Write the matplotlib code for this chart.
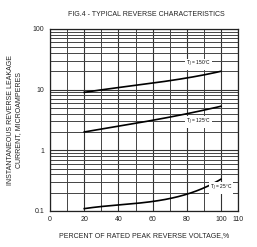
import matplotlib
matplotlib.use("Agg")
import matplotlib.pyplot as plt
import numpy as np
from matplotlib.ticker import FixedLocator, NullFormatter, FixedFormatter

x_pct = [20, 40, 60, 80, 90, 100]
tj150 = [9.0, 10.8, 12.8, 15.5, 17.5, 20.0]
tj125 = [2.0, 2.5, 3.1, 4.0, 4.6, 5.3]
tj25 = [0.11, 0.122, 0.148, 0.19, 0.23, 0.34]
x_ticks = [0, 20, 40, 60, 80, 100, 110]
y_ticks = [0.1, 1, 10, 100]
y_labels = ["0.1", "1", "10", "100"]

plt.rcParams['font.family'] = ['Liberation Sans', 'DejaVu Sans']
fig = plt.figure(figsize=(2.57, 2.47), dpi=100)
ax = fig.add_axes([0.195, 0.146, 0.731, 0.737])
ax.set_yscale('log')
ax.set_xlim(0, 110)
ax.set_ylim(0.1, 100)

for ys in [tj150, tj125, tj25]:
    coef = np.polyfit(x_pct, np.log(ys), 3)
    xx = np.linspace(20, 100, 200)
    ax.plot(xx, np.exp(np.polyval(coef, xx)), color='black', lw=1.2, zorder=3)

ax.xaxis.set_major_locator(FixedLocator(x_ticks))
ax.xaxis.set_minor_locator(FixedLocator(list(range(10, 110, 10))))
ax.yaxis.set_major_locator(FixedLocator(y_ticks))
ax.yaxis.set_major_formatter(FixedFormatter(y_labels))
minors = [m * d for d in [0.1, 1, 10] for m in range(2, 10)]
ax.yaxis.set_minor_locator(FixedLocator(minors))
ax.yaxis.set_minor_formatter(NullFormatter())
ax.grid(True, which='major', color='#333333', lw=0.8)
ax.grid(True, which='minor', color='#444444', lw=0.7)
ax.tick_params(which='both', length=0, labelsize=5, pad=4, colors='#222222')
for s in ax.spines.values():
    s.set_linewidth(0.9)
    s.set_color('#222222')

bbox = dict(facecolor='white', edgecolor='none', pad=0.5)
ax.text(87, 26, "T$_J$ = 150°C", fontsize=3.5, ha='center', va='center', bbox=bbox, zorder=4)
ax.text(87, 2.9, "T$_J$ = 125°C", fontsize=3.5, ha='center', va='center', bbox=bbox, zorder=4)
ax.text(100, 0.24, "T$_J$ = 25°C", fontsize=3.5, ha='center', va='center', bbox=bbox, zorder=4)

fig.text(0.57, 0.94, "FIG.4 - TYPICAL REVERSE CHARACTERISTICS", fontsize=5, ha='center', va='center', color='#222222')
ax.set_xlabel("PERCENT OF RATED PEAK REVERSE VOLTAGE,%", fontsize=5, labelpad=6, color='#222222')
ax.set_ylabel("INSTANTANEOUS REVERSE LEAKAGE\nCURRENT, MICROAMPERES", fontsize=5, labelpad=8, linespacing=1.1, color='#222222')

fig.savefig("out.png", dpi=100)
